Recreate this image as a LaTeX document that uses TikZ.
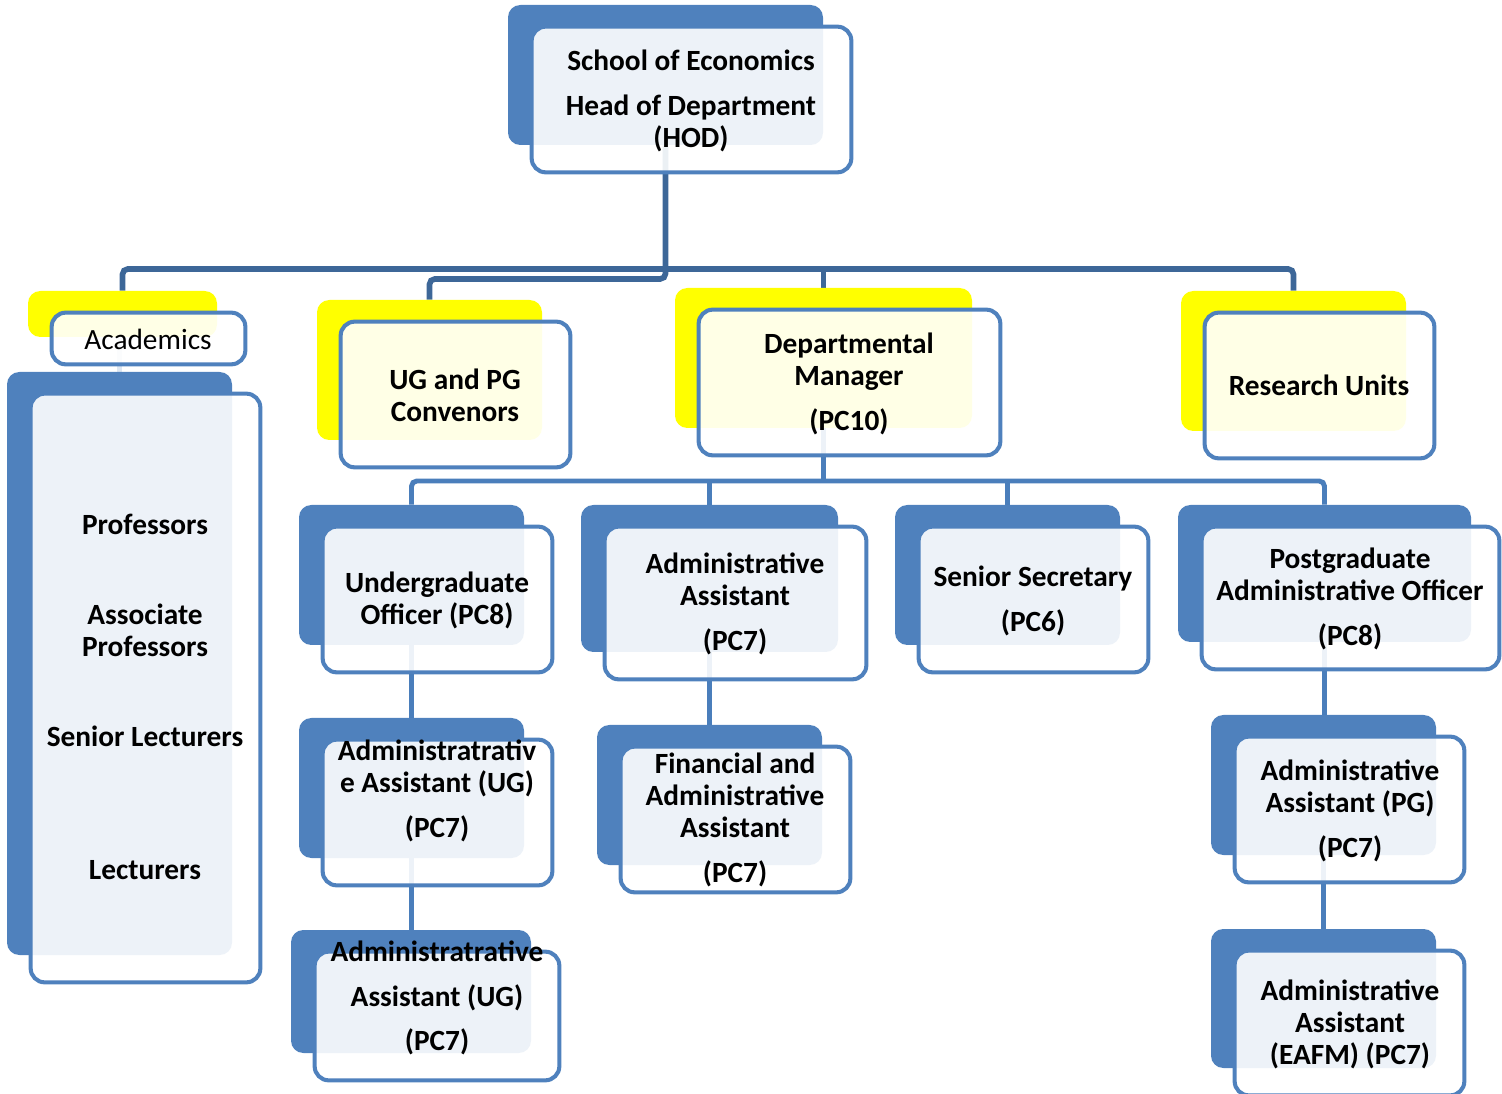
\documentclass[tikz,border=0pt]{standalone}
\usepackage{fontspec}
\setmainfont{Carlito}
\usetikzlibrary{positioning, calc, fit}
\definecolor{hdrblue}{RGB}{79,129,189}
\definecolor{hdryellow}{RGB}{255,255,0}
\definecolor{edgeblue}{RGB}{79,129,189}
\definecolor{busdark}{RGB}{61,103,152}
\definecolor{busblue}{RGB}{74,126,187}
\definecolor{busfaint}{RGB}{222,231,242}
\pgfdeclarelayer{bg}
\pgfsetlayers{bg,main}
\tikzset{
  backbox/.style={rectangle, inner sep=0pt, rounded corners=7pt, draw=none},
  bluebk/.style={backbox, fill=hdrblue},
  yellowbk/.style={backbox, fill=hdryellow},
  frontbox/.style={rectangle, inner sep=0pt, rounded corners=8pt,
    draw=edgeblue, line width=2.3pt, fill=white, fill opacity=0.9},
  txt/.style={font=\fontsize{16.7}{18.2}\selectfont\bfseries,
    align=center, inner sep=0pt, text=black},
  toplink/.style={draw=busdark, line width=3.2pt, rounded corners=3pt},
  sublink/.style={draw=busblue, line width=2.8pt, rounded corners=3pt}
}
\begin{document}
\begin{tikzpicture}[x=0.02cm, y=-0.02cm]
  \useasboundingbox (0,0) rectangle (1502,1094);
  % head of department
  \node[bluebk, fit={(508,5) (823,145)}] (hodbk) {};
  \node[frontbox, fit={($(hodbk.north west)+(24,22)$) ($(hodbk.south east)+(28,27)$)}] (hod) {};
  \node[txt] (hodt) at (691,101) {School of Economics\\[7pt]Head of Department\\(HOD)};
  % second row
  \node[yellowbk, fit={(28,291) (217,337)}] (acbk) {};
  \node[frontbox, fit={($(acbk.north west)+(24,22)$) ($(acbk.south east)+(28,27)$)}] (ac) {};
  \node[txt, font=\fontsize{16.7}{18.2}\selectfont] (act) at (148,339) {Academics};
  \node[bluebk, fit={(7,372) (232,955)}] (acadbk) {};
  \node[frontbox, fit={($(acadbk.north west)+(24,22)$) ($(acadbk.south east)+(28,27)$)}] (acad) {};
  \node[txt] (prof) at (145,524) {Professors};
  \node[txt] (assoc) at (145,630) {Associate\\Professors};
  \node[txt] (senior) at (145,736) {Senior Lecturers};
  \node[txt] (lect) at (145,870) {Lecturers};
  \node[yellowbk, fit={(317,300) (542,440)}] (ugbk) {};
  \node[frontbox, fit={($(ugbk.north west)+(24,22)$) ($(ugbk.south east)+(28,27)$)}] (ug) {};
  \node[txt] (ugt) at (455,395) {UG and PG\\Convenors};
  \node[yellowbk, fit={(675,288) (972,428)}] (dmbk) {};
  \node[frontbox, fit={($(dmbk.north west)+(24,22)$) ($(dmbk.south east)+(28,27)$)}] (dm) {};
  \node[txt] (dmt) at (849,384) {Departmental\\Manager\\[7pt](PC10)};
  \node[yellowbk, fit={(1181,291) (1406,431)}] (rubk) {};
  \node[frontbox, fit={($(rubk.north west)+(24,22)$) ($(rubk.south east)+(28,27)$)}] (ru) {};
  \node[txt] (rut) at (1319,385) {Research Units};
  % third row
  \node[bluebk, fit={(299,505) (524,645)}] (uobk) {};
  \node[frontbox, fit={($(uobk.north west)+(24,22)$) ($(uobk.south east)+(28,27)$)}] (uo) {};
  \node[txt] (uot) at (437,600) {Undergraduate\\Officer (PC8)};
  \node[bluebk, fit={(581,505) (838,652)}] (aabk) {};
  \node[frontbox, fit={($(aabk.north west)+(24,22)$) ($(aabk.south east)+(28,27)$)}] (aa) {};
  \node[txt] (aat) at (735,604) {Administrative\\Assistant\\[7pt](PC7)};
  \node[bluebk, fit={(895,505) (1120,645)}] (ssbk) {};
  \node[frontbox, fit={($(ssbk.north west)+(24,22)$) ($(ssbk.south east)+(28,27)$)}] (ss) {};
  \node[txt] (sst) at (1033,601) {Senior Secretary\\[7pt](PC6)};
  \node[bluebk, fit={(1178,505) (1471,642)}] (pgobk) {};
  \node[frontbox, fit={($(pgobk.north west)+(24,22)$) ($(pgobk.south east)+(28,27)$)}] (pgo) {};
  \node[txt] (pgot) at (1350,599) {Postgraduate\\Administrative Officer\\[7pt](PC8)};
  % fourth row
  \node[bluebk, fit={(299,718) (524,858)}] (ugabk) {};
  \node[frontbox, fit={($(ugabk.north west)+(24,22)$) ($(ugabk.south east)+(28,27)$)}] (uga) {};
  \node[txt] (ugat) at (437,791) {Administratrativ\\e Assistant (UG)\\[7pt](PC7)};
  \node[bluebk, fit={(597,725) (822,865)}] (fabk) {};
  \node[frontbox, fit={($(fabk.north west)+(24,22)$) ($(fabk.south east)+(28,27)$)}] (fa) {};
  \node[txt] (fat) at (735,820) {Financial and\\Administrative\\Assistant\\[7pt](PC7)};
  \node[bluebk, fit={(1211,715) (1436,855)}] (pgabk) {};
  \node[frontbox, fit={($(pgabk.north west)+(24,22)$) ($(pgabk.south east)+(28,27)$)}] (pga) {};
  \node[txt] (pgat) at (1350,811) {Administrative\\Assistant (PG)\\[7pt](PC7)};
  % fifth row
  \node[bluebk, fit={(291,930) (531,1053)}] (ugbbk) {};
  \node[frontbox, fit={($(ugbbk.north west)+(24,22)$) ($(ugbbk.south east)+(28,27)$)}] (ugb) {};
  \node[txt] (ugbt) at (437,998) {Administratrative\\[7pt]Assistant (UG)\\[7pt](PC7)};
  \node[bluebk, fit={(1211,929) (1436,1068)}] (eabk) {};
  \node[frontbox, fit={($(eabk.north west)+(24,22)$) ($(eabk.south east)+(28,27)$)}] (ea) {};
  \node[txt] (eat) at (1350,1024) {Administrative\\Assistant\\(EAFM) (PC7)};
  % connectors underneath
  \coordinate (busa) at (0,269);
  \coordinate (busb) at (0,279);
  \coordinate (busc) at (0,481);
  \begin{pgfonlayer}{bg}
    \draw[toplink] (hodbk.south) -- (hodbk.south |- busb) -- (ugbk.north |- busb) -- (ugbk.north);
    \draw[toplink] (acbk.north) -- (acbk.north |- busa) -- (rubk.north |- busa) -- (rubk.north);
    \draw[toplink] (dmbk.north |- busa) -- (dmbk.north);
    \draw[draw=busfaint, line width=2.8pt] (acadbk.north |- acbk.south) -- (acadbk.north);
    \draw[sublink] (dmbk.south) -- (dmbk.south |- busc);
    \draw[sublink] (uobk.north) -- (uobk.north |- busc) -- (pgobk.north |- busc) -- (pgobk.north);
    \draw[sublink] (aabk.north |- busc) -- (aabk.north);
    \draw[sublink] (ssbk.north |- busc) -- (ssbk.north);
    \draw[sublink] (uobk.south) -- (uobk.south |- ugabk.north);
    \draw[sublink] (aabk.south) -- (aabk.south |- fabk.north);
    \draw[sublink] (pgobk.south) -- (pgobk.south |- pgabk.north);
    \draw[sublink] (ugabk.south) -- (ugabk.south |- ugbbk.north);
    \draw[sublink] (pgabk.south) -- (pgabk.south |- eabk.north);
  \end{pgfonlayer}
\end{tikzpicture}
\end{document}
